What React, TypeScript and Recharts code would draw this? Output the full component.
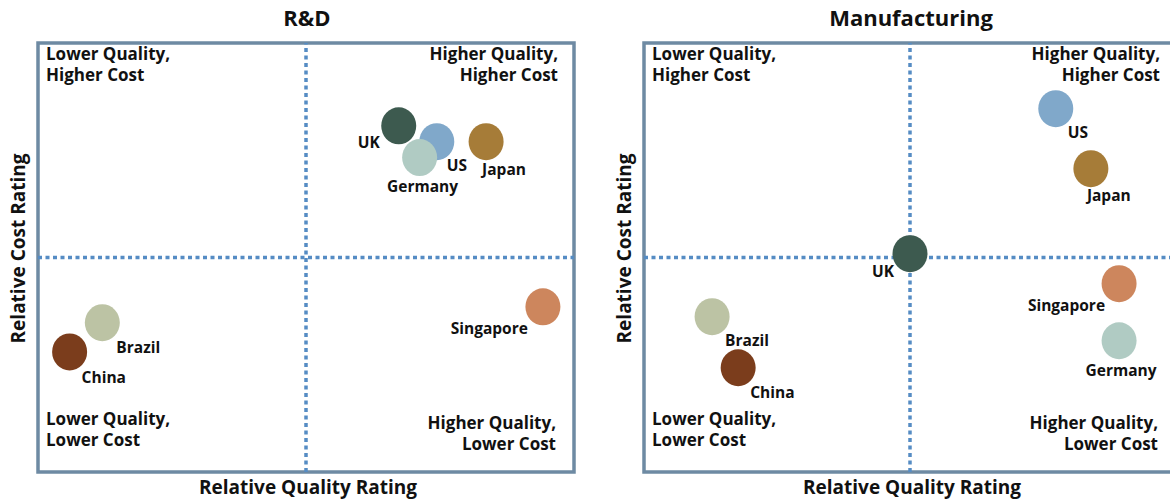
import { ReferenceArea, ReferenceLine, Scatter, ScatterChart, XAxis, YAxis } from "recharts";

const countries = ["UK", "US", "Germany", "Japan", "Brazil", "China", "Singapore"];
const countryColors = ["#3d5a4f", "#80a8ca", "#b0cbc3", "#a67c38", "#bcc3a4", "#7b3d1c", "#cd865d"];

// relative ratings, 0-10 scale, 5 = quadrant split
const rdQuality = [6.73, 7.44, 7.12, 8.36, 1.2, 0.59, 9.42];
const rdCost = [8.07, 7.7, 7.33, 7.7, 3.48, 2.8, 3.85];
const mfgQuality = [5.0, 7.74, 8.93, 8.4, 1.28, 1.77, 8.93];
const mfgCost = [5.09, 8.47, 3.06, 7.07, 3.62, 2.43, 4.39];

const panelTitles = ["R&D", "Manufacturing"];
const xTitle = "Relative Quality Rating";
const yTitle = "Relative Cost Rating";
const quadrantText = [
  ["Lower Quality,", "Higher Cost"],
  ["Higher Quality,", "Higher Cost"],
  ["Lower Quality,", "Lower Cost"],
  ["Higher Quality,", "Lower Cost"],
];

// label placement next to each bubble: [dx, dy, anchor]
type Place = [number, number, "start" | "middle" | "end"];
const rdPlace: Place[] = [
  [-19, 22, "end"],
  [10, 29, "start"],
  [3, 34, "middle"],
  [-4, 33, "start"],
  [14, 30, "start"],
  [12, 31, "start"],
  [-15, 27, "end"],
];
const mfgPlace: Place[] = [
  [-16, 23, "end"],
  [12, 29, "start"],
  [2, 35, "middle"],
  [-4, 32, "start"],
  [13, 29, "start"],
  [12, 30, "start"],
  [-14, 27, "end"],
];

const FONT = "'Open Sans', 'Noto Sans', sans-serif";
const H = 501;

function build(q: number[], c: number[], place: Place[]) {
  return countries.map((name, i) => ({ name, q: q[i], c: c[i], color: countryColors[i], place: place[i] }));
}

const Bubble = (props: any) => {
  const { cx, cy, payload } = props;
  const [dx, dy, anchor] = payload.place as Place;
  return (
    <g>
      <ellipse cx={cx} cy={cy} rx={17.5} ry={18.5} fill={payload.color} />
      <text x={cx + dx} y={cy + dy} textAnchor={anchor} fontFamily={FONT} fontWeight={700} fontSize={15.5} fill="#111">
        {payload.name}
      </text>
    </g>
  );
};

interface PanelProps {
  left: number;
  width: number;
  chartWidth: number;
  margin: { top: number; right: number; bottom: number; left: number };
  data: ReturnType<typeof build>;
  title: string;
}

function TwoLines({ x, y, lines, anchor }: { x: number; y: number; lines: string[]; anchor?: "start" | "end" }) {
  return (
    <>
      {lines.map((t, i) => (
        <text key={i} x={x} y={y + i * 20.5} textAnchor={anchor || "start"} fontFamily={FONT} fontWeight={700} fontSize={17} fill="#111">
          {t}
        </text>
      ))}
    </>
  );
}

function Panel({ left, width, chartWidth, margin, data, title }: PanelProps) {
  const pl = margin.left;
  const pr = chartWidth - margin.right;
  const pt = margin.top;
  const pb = H - margin.bottom;
  const mid = (pl + pr) / 2;
  const midY = (pt + pb) / 2;
  return (
    <div style={{ position: "absolute", left, top: 0, width, height: H, overflow: "hidden" }}>
      <ScatterChart width={chartWidth} height={H} margin={margin}>
        <XAxis type="number" dataKey="q" domain={[0, 10]} hide />
        <YAxis type="number" dataKey="c" domain={[0, 10]} hide />
        <ReferenceArea x1={0} x2={10} y1={0} y2={10} fill="none" stroke="#6e8aa3" strokeWidth={3.5} />
        <ReferenceLine x={5} stroke="#558cc4" strokeWidth={3.5} strokeDasharray="4 3.5" />
        <ReferenceLine y={5} stroke="#558cc4" strokeWidth={3.5} strokeDasharray="4 3.5" />
        <Scatter data={data} shape={Bubble} isAnimationActive={false} />
      </ScatterChart>
      <svg width={chartWidth} height={H} style={{ position: "absolute", left: 0, top: 0, pointerEvents: "none" }}>
        <text x={mid + 1} y={26} textAnchor="middle" fontFamily={FONT} fontWeight={700} fontSize={22} fill="#111">
          {title}
        </text>
        <text x={mid + 2} y={494} textAnchor="middle" fontFamily={FONT} fontWeight={700} fontSize={19} fill="#111">
          {xTitle}
        </text>
        <text
          x={pl - 20}
          y={midY - 9}
          transform={`rotate(-90 ${pl - 20} ${midY - 9})`}
          dy={6.5}
          textAnchor="middle"
          fontFamily={FONT}
          fontWeight={700}
          fontSize={19}
          fill="#111"
        >
          {yTitle}
        </text>
        <TwoLines x={pl + 8} y={pt + 17} lines={quadrantText[0]} />
        <TwoLines x={pr - 16} y={pt + 17} lines={quadrantText[1]} anchor="end" />
        <TwoLines x={pl + 8} y={pb - 47} lines={quadrantText[2]} />
        <TwoLines x={pr - 18} y={pb - 43} lines={quadrantText[3]} anchor="end" />
      </svg>
    </div>
  );
}

export default function App() {
  return (
    <div style={{ position: "absolute", left: 0, top: 0, width: 1170, height: H, background: "#fff", overflow: "hidden" }}>
      <Panel
        left={0}
        width={590}
        chartWidth={590}
        margin={{ top: 43, right: 16, bottom: 29, left: 38 }}
        data={build(rdQuality, rdCost, rdPlace)}
        title={panelTitles[0]}
      />
      <Panel
        left={590}
        width={580}
        chartWidth={600}
        margin={{ top: 43, right: 14, bottom: 29, left: 54 }}
        data={build(mfgQuality, mfgCost, mfgPlace)}
        title={panelTitles[1]}
      />
    </div>
  );
}
